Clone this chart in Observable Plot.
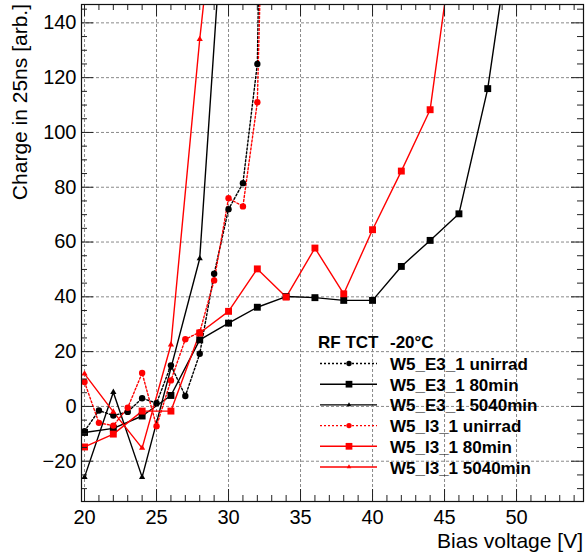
<!DOCTYPE html>
<html>
<head>
<meta charset="utf-8">
<script src="https://cdn.jsdelivr.net/npm/d3@7"></script>
<script src="https://cdn.jsdelivr.net/npm/@observablehq/plot@0.6"></script>
<style>
  body { margin: 0; background: #fff; }
  svg { display: block; }
</style>
</head>
<body>
<div id="chart"></div>
<script>
// ---- data ----
const vUnirrad   = [20, 21, 22, 23, 24, 25, 26, 27, 28, 29, 30, 31, 32, 33];
const qE3unirrad = [-9, -1.5, -3.3, -2, 3, 1.2, 15, 3.8, 19.2, 48.4, 72, 81.5, 125, 450];
const qI3unirrad = [8.9, -6, -7, -0.5, 12.2, -7.2, 9.5, 24.5, 27.1, 46, 76, 73, 111, 320];

const vE3_80 = [20, 22, 24, 26, 28, 30, 32, 34, 36, 38, 40, 42, 44, 46, 48, 50];
const qE3_80 = [-9.5, -8, -3.5, 4, 24.3, 30.4, 36.2, 40.1, 39.7, 38.7, 38.7, 51.1, 60.6, 70.3, 116, 188];

const vI3_80 = [20, 22, 24, 26, 28, 30, 32, 34, 36, 38, 40, 42, 44, 46];
const qI3_80 = [-14.8, -10.1, -1.7, -1.7, 26.8, 34.7, 50.2, 39.9, 57.8, 41.1, 64.5, 85.9, 108.3, 185];

const v5040    = [20, 22, 24, 26, 28, 30];
const qE3_5040 = [-25.8, 5.2, -25.8, 14, 54, 210];
const qI3_5040 = [11.9, -2, -15.2, 22.5, 134, 230];

const seriesNames = ["W5_E3_1 unirrad", "W5_E3_1 80min", "W5_E3_1 5040min",
                     "W5_I3_1 unirrad", "W5_I3_1 80min", "W5_I3_1 5040min"];
const xTickLabels = [20, 25, 30, 35, 40, 45, 50];
const yTickLabels = [-20, 0, 20, 40, 60, 80, 100, 120, 140];
const xTitle = "Bias voltage [V]";
const yTitle = "Charge in 25ns [arb.]";
const legendHeader = ["RF TCT", "-20°C"];

// ---- styles per series ----
const styles = [
  {color: "black", symbol: "circle",   r: 3.2, dash: "2,2"},
  {color: "black", symbol: "square",   r: 3.9, dash: null},
  {color: "black", symbol: "triangle", r: 2.3, dash: null},
  {color: "red",   symbol: "circle",   r: 3.2, dash: "2,2"},
  {color: "red",   symbol: "square",   r: 3.9, dash: null},
  {color: "red",   symbol: "triangle", r: 2.3, dash: null}
];
const seriesData = [
  [vUnirrad, qE3unirrad], [vE3_80, qE3_80], [v5040, qE3_5040],
  [vUnirrad, qI3unirrad], [vI3_80, qI3_80], [v5040, qI3_5040]
].map(([v, q]) => v.map((x, i) => ({v: x, q: q[i]})));

// ---- layout ----
const W = 588, H = 553, mL = 81, mR = 5, mT = 4, mB = 52;
const innerW = W - mL - mR, innerH = H - mT - mB;
const font = "'Liberation Sans', Arial, Helvetica, sans-serif";
const xMinor = d3.range(20, 55, 1);
const yMinor = d3.range(-30, 147, 5);
const major = 12, minor = 6;

const marks = [];
// grid
marks.push(Plot.ruleX(xTickLabels, {stroke: "#8a8a8a", strokeWidth: 1, strokeDasharray: "3,2"}));
marks.push(Plot.ruleY(yTickLabels, {stroke: "#8a8a8a", strokeWidth: 1, strokeDasharray: "3,2"}));
// series
seriesData.forEach((d, i) => {
  const s = styles[i];
  marks.push(Plot.line(d, {x: "v", y: "q", stroke: s.color, strokeWidth: 1.4,
    strokeDasharray: s.dash ?? undefined, clip: true}));
});
seriesData.forEach((d, i) => {
  const s = styles[i];
  marks.push(Plot.dot(d, {x: "v", y: "q", symbol: () => s.symbol, r: s.r, fill: s.color,
    stroke: "none", clip: true}));
});
// inward ticks on all four sides
const isMajX = v => xTickLabels.includes(v);
const isMajY = v => yTickLabels.includes(v);
const tickStroke = {stroke: "#222", strokeWidth: 1};
for (const v of xMinor) {
  const len = isMajX(v) ? major : minor;
  marks.push(Plot.ruleX([v], {...tickStroke, insetTop: innerH - len}));
  marks.push(Plot.ruleX([v], {...tickStroke, insetBottom: innerH - len}));
}
for (const v of yMinor) {
  const len = isMajY(v) ? major : minor;
  marks.push(Plot.ruleY([v], {...tickStroke, insetRight: innerW - len}));
  marks.push(Plot.ruleY([v], {...tickStroke, insetLeft: innerW - len}));
}
marks.push(Plot.frame({stroke: "#111", strokeWidth: 1.2}));
marks.push(Plot.axisX(xTickLabels, {tickSize: 0, tickPadding: 8, fontSize: 20, label: null}));
marks.push(Plot.axisY(yTickLabels, {tickSize: 0, tickPadding: 5, fontSize: 20, label: null}));

const chart = Plot.plot({
  width: W, height: H,
  marginLeft: mL, marginRight: mR, marginTop: mT, marginBottom: mB,
  x: {domain: [19.79, 54.65]},
  y: {domain: [-34.7, 146.7]},
  style: {fontFamily: font, fontSize: "20px", color: "black", background: "white", overflow: "visible"},
  marks
});
document.getElementById("chart").appendChild(chart);

// ---- titles and legend ----
const svg = d3.select(chart);
svg.append("text").attr("x", W - mR).attr("y", 548).attr("text-anchor", "end")
  .attr("font-family", font).attr("font-size", 21).attr("fill", "black").text(xTitle);
svg.append("text").attr("transform", `translate(27,${mT}) rotate(-90)`).attr("text-anchor", "end")
  .attr("font-family", font).attr("font-size", 21).attr("fill", "black").text(yTitle);

const lg = svg.append("g").attr("font-family", font).attr("font-size", 17)
  .attr("font-weight", "bold").attr("text-anchor", "start");
lg.append("text").attr("x", 318).attr("y", 348).attr("text-anchor", "start").text(legendHeader[0]);
lg.append("text").attr("x", 390).attr("y", 348).attr("text-anchor", "start").text(legendHeader[1]);
const symMap = {circle: d3.symbolCircle, square: d3.symbolSquare, triangle: d3.symbolTriangle};
const legR = {circle: 2.7, square: 3.8, triangle: 1.7};
seriesNames.forEach((name, i) => {
  const s = styles[i];
  const cy = 363.5 + i * 20.7;
  lg.append("line").attr("x1", 320).attr("x2", 377).attr("y1", cy).attr("y2", cy)
    .attr("stroke", s.color).attr("stroke-width", 1.4)
    .attr("stroke-dasharray", s.dash);
  lg.append("path").attr("transform", `translate(349,${cy})`)
    .attr("d", d3.symbol(symMap[s.symbol], Math.PI * legR[s.symbol] ** 2)())
    .attr("fill", s.color);
  lg.append("text").attr("x", 390).attr("y", cy + 6.5).attr("text-anchor", "start")
    .attr("fill", "black").text(name);
});
</script>
</body>
</html>
